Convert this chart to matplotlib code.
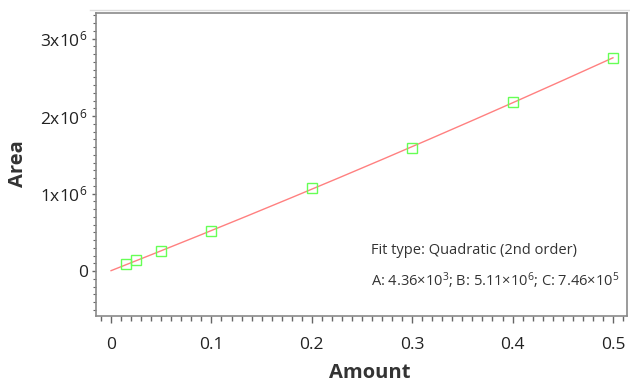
import numpy as np
import matplotlib
matplotlib.use("Agg")
import matplotlib.pyplot as plt
from matplotlib.ticker import MultipleLocator, FixedLocator
from matplotlib.lines import Line2D

plt.rcParams['font.family'] = ['Open Sans', 'DejaVu Sans']
plt.rcParams['mathtext.fontset'] = 'custom'
plt.rcParams['mathtext.rm'] = 'Open Sans'
plt.rcParams['mathtext.it'] = 'Open Sans:italic'
plt.rcParams['mathtext.bf'] = 'Open Sans:bold'

# Data
amount = [0.015, 0.025, 0.05, 0.1, 0.2, 0.3, 0.4, 0.5]
area = [0.086e6, 0.138e6, 0.26e6, 0.516e6, 1.07e6, 1.59e6, 2.18e6, 2.75e6]
y_ticks = [0, 1e6, 2e6, 3e6]
y_tick_labels = ["0", "1x10$^{6}$", "2x10$^{6}$", "3x10$^{6}$"]
x_ticks = [0, 0.1, 0.2, 0.3, 0.4, 0.5]
x_tick_labels = ["0", "0.1", "0.2", "0.3", "0.4", "0.5"]
fit_text_1 = "Fit type: Quadratic (2nd order)"
fit_text_2 = "A: 4.36\u00d710$^{3}$; B: 5.11\u00d710$^{6}$; C: 7.46\u00d710$^{5}$"

# quadratic fit curve through the data (and origin)
x = np.array([0.0] + amount)
y = np.array([0.0] + area)
coef = np.polyfit(x, y, 2)
xf = np.linspace(0, max(amount), 200)
yf = np.polyval(coef, xf)

fig = plt.figure(figsize=(6.3, 3.85), dpi=100)
ax = fig.add_axes([96/630, 1-316/385, (627-96)/630, (316-13)/385])

ax.plot(xf, yf, color='#ff8080', lw=1.0, zorder=2)
ax.plot(amount, area, linestyle='none', marker='s', markersize=6.5,
        markerfacecolor='none', markeredgecolor='#66ff55', markeredgewidth=1.0, zorder=3)

ax.set_xlim(-0.015, 0.514)
ax.set_ylim(-0.58e6, 3.33e6)

ax.xaxis.set_major_locator(FixedLocator(x_ticks))
ax.set_xticklabels(x_tick_labels)
ax.xaxis.set_minor_locator(MultipleLocator(0.01))
ax.yaxis.set_major_locator(FixedLocator(y_ticks))
ax.set_yticklabels(y_tick_labels)
ax.yaxis.set_minor_locator(MultipleLocator(1e5))

for s in ax.spines.values():
    s.set_color('#8a8a8a')
    s.set_linewidth(1.2)

ax.tick_params(axis='both', which='both', direction='out', colors='#666666',
               labelcolor='#222222', labelsize=12.5, top=False, right=False)
ax.tick_params(axis='x', which='major', length=5, width=1, pad=10)
ax.tick_params(axis='x', which='minor', length=3.5, width=1)
ax.tick_params(axis='y', which='major', length=3, width=1, pad=3)
ax.tick_params(axis='y', which='minor', length=2, width=0.8)

fig.text(370/630, 1-373/385, "Amount", ha='center', va='center',
         fontsize=14.5, fontweight='bold', color='#333333')
fig.text(18/630, 1-164/385, "Area", ha='center', va='center', rotation=90,
         fontsize=14.5, fontweight='bold', color='#333333')

ax.text((371-96)/531, (316-250)/303, fit_text_1, transform=ax.transAxes,
        ha='left', va='center', fontsize=10.5, color='#333333')
ax.text((371-96)/531, (316-281)/303, fit_text_2, transform=ax.transAxes,
        ha='left', va='center', fontsize=10.5, color='#333333')

fig.add_artist(Line2D([90/630, 1.0], [1-9.5/385, 1-9.5/385], color='#dddddd', lw=1.0))

fig.savefig("out.png", dpi=100, facecolor='white')
